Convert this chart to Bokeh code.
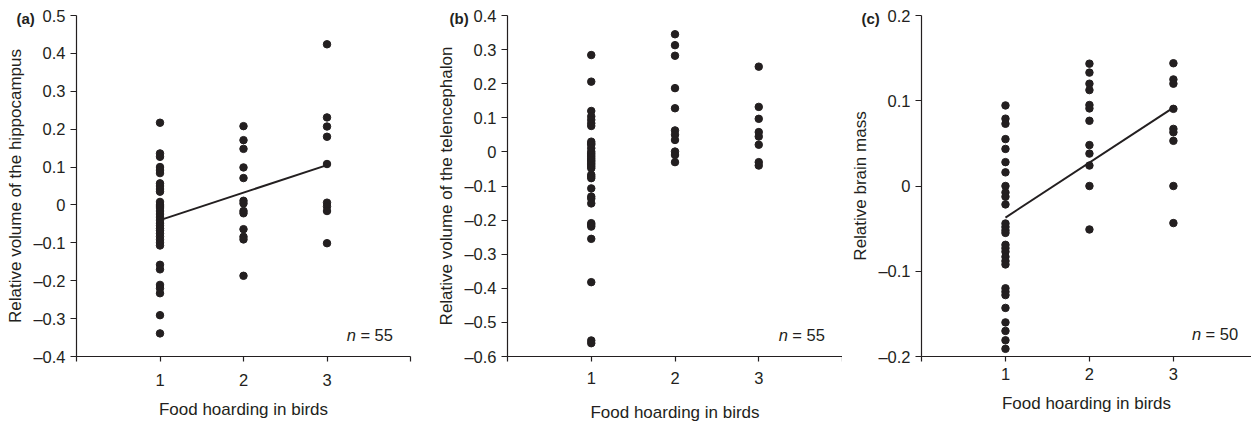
from bokeh.plotting import figure
from bokeh.layouts import row
from bokeh.models import FixedTicker, CustomJSTickFormatter, Label
from bokeh.embed import file_html
from bokeh.resources import INLINE

# ---------------- data ----------------
x_ticks = [0, 1, 2, 3, 4]

a_y1 = [0.217, 0.136, 0.127, 0.100, 0.092, 0.084, 0.057, 0.050, 0.042, 0.035,
        0.008, 0.0, -0.003, -0.008, -0.016, -0.024, -0.032, -0.040, -0.048, -0.055,
        -0.062, -0.068, -0.075, -0.083, -0.092, -0.100, -0.107, -0.158, -0.170,
        -0.211, -0.220, -0.233, -0.291, -0.339]
a_y2 = [0.208, 0.171, 0.148, 0.099, 0.071, 0.011, 0.004, -0.016, -0.022,
        -0.064, -0.084, -0.091, -0.187]
a_y3 = [0.424, 0.231, 0.207, 0.180, 0.108, 0.006, -0.004, -0.016, -0.101]
a_fit_x = [1, 3]
a_fit_y = [-0.040, 0.105]
a_yticks = [-0.4, -0.3, -0.2, -0.1, 0.0, 0.1, 0.2, 0.3, 0.4, 0.5]

b_y1 = [0.284, 0.206, 0.120, 0.104, 0.094, 0.084, 0.076, 0.030, 0.025, 0.021,
        0.011, 0.001, -0.004, -0.009, -0.014, -0.019, -0.024, -0.028, -0.033,
        -0.038, -0.043, -0.048, -0.067, -0.072, -0.077, -0.107, -0.131, -0.137,
        -0.151, -0.209, -0.214, -0.219, -0.255, -0.382, -0.553, -0.561]
b_y2 = [0.345, 0.313, 0.282, 0.187, 0.128, 0.063, 0.050, 0.035, 0.001,
        -0.009, -0.030]
b_y3 = [0.250, 0.132, 0.097, 0.058, 0.045, 0.021, -0.030, -0.040]
b_yticks = [-0.6, -0.5, -0.4, -0.3, -0.2, -0.1, 0.0, 0.1, 0.2, 0.3, 0.4]

c_y1 = [0.0945, 0.079, 0.073, 0.055, 0.0435, 0.028, 0.016, 0.0, -0.0075,
        -0.0125, -0.0216, -0.044, -0.048, -0.052, -0.055, -0.069, -0.073,
        -0.077, -0.083, -0.088, -0.092, -0.120, -0.124, -0.128, -0.143, -0.160,
        -0.170, -0.181, -0.191]
c_y2 = [0.1435, 0.133, 0.120, 0.1125, 0.095, 0.091, 0.0765, 0.048, 0.038,
        0.024, 0.0, -0.051]
c_y3 = [0.144, 0.125, 0.120, 0.0905, 0.067, 0.063, 0.053, 0.0, -0.0435]
c_fit_x = [1, 3]
c_fit_y = [-0.037, 0.092]
c_yticks = [-0.2, -0.1, 0.0, 0.1, 0.2]

x_label = "Food hoarding in birds"
panels = [
    dict(tag="(a)", ylabel="Relative volume of the hippocampus", yr=(-0.4, 0.5),
         cols=[a_y1, a_y2, a_y3], fit=(a_fit_x, a_fit_y), yticks=a_yticks,
         n="= 55", ny=-0.3425, nx=3.79),
    dict(tag="(b)", ylabel="Relative volume of the telencephalon", yr=(-0.6, 0.4),
         cols=[b_y1, b_y2, b_y3], fit=None, yticks=b_yticks,
         n="= 55", ny=-0.5375, nx=3.79),
    dict(tag="(c)", ylabel="Relative brain mass", yr=(-0.2, 0.2),
         cols=[c_y1, c_y2, c_y3], fit=(c_fit_x, c_fit_y), yticks=c_yticks,
         n="= 50", ny=-0.174, nx=3.77),
]

# ---------------- style ----------------
FONT = "Liberation Sans"
INK = "#231f20"
geom = [
    dict(left=76, fw=334, right=10, xmax=4.0, tick_sd=12, xlab_sd=11, tag_off=-60),
    dict(left=87, fw=335, right=0, xmax=4.0, tick_sd=10, xlab_sd=16, tag_off=-58),
    dict(left=79, fw=330, right=0, xmax=3.93, tick_sd=6, xlab_sd=11, tag_off=-60),
]

yfmt = CustomJSTickFormatter(code="""
if (Math.abs(tick) < 1e-9) { return '0'; }
return tick.toFixed(1).replace('-', '\u2013');
""")
xfmt = CustomJSTickFormatter(code="""
if (tick >= 0.5 && tick <= 3.5) { return tick.toFixed(0); }
return '';
""")

figs = []
for pn, g in zip(panels, geom):
    p = figure(frame_width=g["fw"], frame_height=341,
               x_range=(0, g["xmax"]), y_range=pn["yr"],
               output_backend="svg", toolbar_location=None,
               min_border_left=g["left"], min_border_right=g["right"],
               min_border_top=15, min_border_bottom=40)
    p.outline_line_color = None
    p.grid.visible = False
    p.background_fill_color = "white"
    p.border_fill_color = "white"

    p.title.text = pn["tag"]
    p.title.align = "left"
    p.title.offset = g["tag_off"]
    p.title.standoff = -22
    p.title.text_font = FONT
    p.title.text_font_size = "15px"
    p.title.text_font_style = "bold"
    p.title.text_color = INK

    for ax in (p.xaxis[0], p.yaxis[0]):
        ax.axis_line_color = INK
        ax.axis_line_width = 1.2
        ax.major_tick_line_color = INK
        ax.major_tick_line_width = 1.2
        ax.major_tick_in = 0
        ax.minor_tick_line_color = None
        ax.major_label_text_font = FONT
        ax.major_label_text_font_size = "16.5px"
        ax.major_label_text_color = INK
        ax.axis_label_text_font = FONT
        ax.axis_label_text_font_size = "17px"
        ax.axis_label_text_font_style = "normal"
        ax.axis_label_text_color = INK

    p.xaxis.ticker = FixedTicker(ticks=x_ticks)
    p.xaxis.formatter = xfmt
    p.xaxis.major_tick_out = 5
    p.xaxis.major_label_standoff = g["tick_sd"]
    p.xaxis.axis_label = x_label
    p.xaxis.axis_label_standoff = g["xlab_sd"]

    p.yaxis.ticker = FixedTicker(ticks=pn["yticks"])
    p.yaxis.formatter = yfmt
    p.yaxis.major_tick_out = 6
    p.yaxis.major_label_standoff = 5
    p.yaxis.axis_label = pn["ylabel"]
    p.yaxis.axis_label_standoff = 5

    for i, ys in enumerate(pn["cols"]):
        p.scatter([i + 1] * len(ys), ys, size=7.5, color=INK, line_color=INK)
    if pn["fit"] is not None:
        p.line(pn["fit"][0], pn["fit"][1], line_color=INK, line_width=2)

    p.add_layout(Label(x=pn["nx"], y=pn["ny"], text=pn["n"], text_font=FONT,
                       text_font_size="16.5px", text_color=INK,
                       text_baseline="middle", text_align="right"))
    p.add_layout(Label(x=pn["nx"], y=pn["ny"], x_offset=-37, text="n", text_font=FONT,
                       text_font_style="italic", text_font_size="16.5px", text_color=INK,
                       text_baseline="middle", text_align="right"))
    figs.append(p)

layout = row(*figs, spacing=0)
with open("out.html", "w", encoding="utf-8") as f:
    f.write(file_html(layout, INLINE))
